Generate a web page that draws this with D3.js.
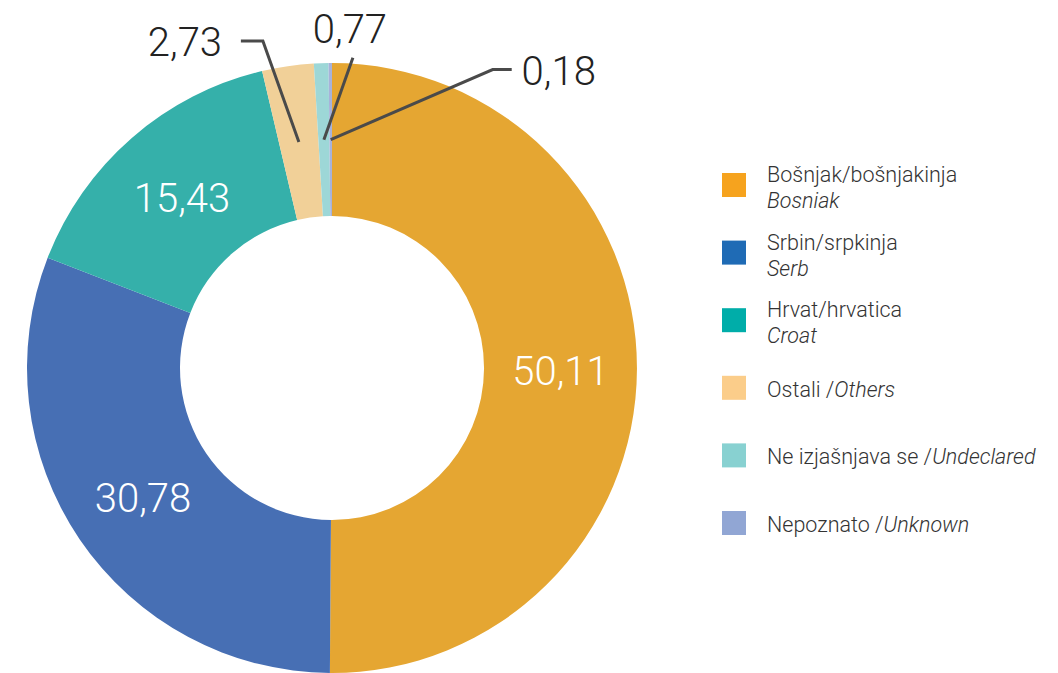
<html>
<head>
<meta charset="utf-8">
<style>
  body { margin: 0; background: #fff; }
  text { font-family: Roboto, "Noto Sans", sans-serif; }
  .lbl { font-weight: 300; font-size: 40px; }
  .leg { font-weight: 300; font-size: 21.5px; fill: #333; }
  .leader { fill: none; stroke: #4a4a4a; stroke-width: 3; }
</style>
</head>
<body>
<svg id="chart" width="1058" height="673"></svg>
<script src="https://d3js.org/d3.v7.min.js"></script>
<script>
// data
const names = ["Bošnjak/bošnjakinja", "Srbin/srpkinja", "Hrvat/hrvatica", "Ostali /", "Ne izjašnjava se /", "Nepoznato /"]
const namesEn = ["Bosniak", "Serb", "Croat", "Others", "Undeclared", "Unknown"]
const values = [50.11, 30.78, 15.43, 2.73, 0.77, 0.18]
const sliceColors = ["#e5a632", "#476fb4", "#35b0aa", "#f1d098", "#9dd7d7", "#a7b2da"]
const legendColors = ["#f6a31e", "#1f6bb5", "#00ada9", "#fbcd8a", "#88d1d1", "#91a6d4"]

const svg = d3.select("#chart")
const cx = 332, cy = 368
const outerR = 305, innerR = 152

const pie = d3.pie().sort(null).value(d => d)
const arcs = pie(values)
const arc = d3.arc().innerRadius(innerR).outerRadius(outerR)

const g = svg.append("g").attr("transform", `translate(${cx},${cy})`)

g.selectAll("path.slice")
  .data(arcs)
  .enter().append("path")
  .attr("class", "slice")
  .attr("d", arc)
  .attr("fill", (d, i) => sliceColors[i])

const fmt = v => String(v.toFixed(2)).replace(".", ",")

// labels inside the big slices
g.selectAll("text.inner")
  .data(arcs.filter(d => d.value > 10))
  .enter().append("text")
  .attr("class", "lbl inner")
  .attr("fill", "#fff")
  .attr("text-anchor", "middle")
  .attr("x", d => arc.centroid(d)[0])
  .attr("y", d => arc.centroid(d)[1] + 16)
  .text(d => fmt(d.value))

// leader lines for the small slices: elbow offset from centroid, then text
const leaders = [
  { i: 3, elbow: [-36, -101], end: [-58, -101], text: [-114, -86], anchor: "middle" },
  { i: 4, elbow: [29, -82], end: [29, -82], text: [26, -97], anchor: "middle" },
  { i: 5, elbow: [162, -70], end: [181, -70], text: [228, -55], anchor: "middle" }
]
leaders.forEach(l => {
  const c = arc.centroid(arcs[l.i])
  const pts = [c, [c[0] + l.elbow[0], c[1] + l.elbow[1]], [c[0] + l.end[0], c[1] + l.end[1]]]
  g.append("path")
    .attr("class", "leader")
    .attr("d", d3.line()(pts))
  g.append("text")
    .attr("class", "lbl")
    .attr("fill", "#222")
    .attr("text-anchor", l.anchor)
    .attr("x", c[0] + l.text[0])
    .attr("y", c[1] + l.text[1])
    .text(fmt(values[l.i]))
})

// legend
const legend = svg.append("g").attr("transform", "translate(722,173)")
const yStep = d3.scaleLinear().domain([0, 5]).range([0, 338])
const item = legend.selectAll("g.item")
  .data(names)
  .enter().append("g")
  .attr("class", "item")
  .attr("transform", (d, i) => `translate(0,${yStep(i)})`)
item.append("rect")
  .attr("width", 24).attr("height", 24)
  .attr("fill", (d, i) => legendColors[i])
item.each(function (d, i) {
  const el = d3.select(this)
  if (i < 3) {
    el.append("text").attr("class", "leg").attr("x", 45).attr("y", 9).text(d)
    el.append("text").attr("class", "leg").attr("x", 45).attr("y", 35)
      .attr("font-style", "italic").text(namesEn[i])
  } else {
    const t = el.append("text").attr("class", "leg").attr("x", 45).attr("y", 21)
    t.append("tspan").text(d)
    t.append("tspan").attr("font-style", "italic").text(namesEn[i])
  }
})
</script>
</body>
</html>
